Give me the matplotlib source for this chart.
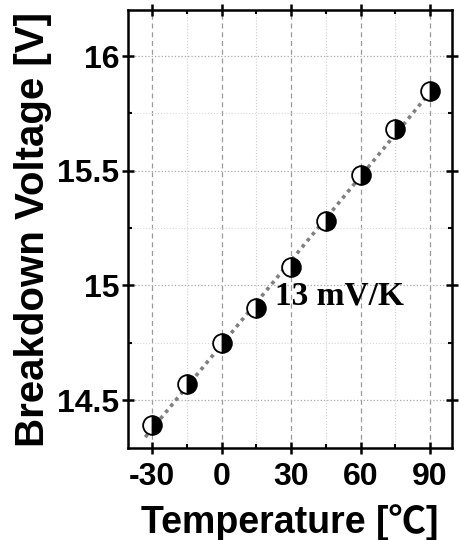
import numpy as np
import matplotlib.pyplot as plt
from matplotlib.ticker import MultipleLocator

# breakdown voltage vs temperature
temperature = [-30, -15, 0, 15, 30, 45, 60, 75, 90]
voltage = [14.39, 14.57, 14.75, 14.90, 15.08, 15.28, 15.48, 15.68, 15.85]
x_ticks = [-30, 0, 30, 60, 90]
y_ticks = [14.5, 15, 15.5, 16]
y_tick_labels = ["14.5", "15", "15.5", "16"]
slope_label = "13 mV/K"

plt.rcParams["font.family"] = ["Liberation Sans", "Noto Sans CJK SC", "DejaVu Sans"]
plt.rcParams["font.weight"] = "bold"
plt.rcParams["axes.unicode_minus"] = False

fig = plt.figure(figsize=(4.6, 5.4), dpi=100)
ax = fig.add_axes([0.278, 0.170, 0.705, 0.811])

# linear fit through the measured points
coef = np.polyfit(temperature, voltage, 1)
fit_x = np.array([-33, 93])
ax.plot(fit_x, np.polyval(coef, fit_x), color="#808080", linestyle=(0, (1, 1.2)),
        linewidth=2.6, zorder=2)

ax.plot(temperature, voltage, linestyle="none", marker="o", markersize=13.5,
        fillstyle="right", markerfacecolor="black", markerfacecoloralt="white",
        markeredgecolor="black", markeredgewidth=1.3, zorder=3)

ax.text(51, 14.955, slope_label, family="Liberation Serif", fontsize=24,
        fontweight="bold", ha="center", va="center")

ax.set_xlim(-40.5, 99.5)
ax.set_ylim(14.29, 16.2)
ax.set_xticks(x_ticks)
ax.set_yticks(y_ticks)
ax.set_yticklabels(y_tick_labels)
ax.xaxis.set_minor_locator(MultipleLocator(15))
ax.yaxis.set_minor_locator(MultipleLocator(0.25))

ax.grid(which="major", axis="x", color="#9a9a9a", linestyle=(0, (4, 3)), linewidth=0.9)
ax.grid(which="minor", axis="x", color="#d0d0d0", linestyle=":", linewidth=0.8)
ax.grid(which="major", axis="y", color="#a8a8a8", linestyle=":", linewidth=0.9)
ax.grid(which="minor", axis="y", color="#d8d8d8", linestyle=":", linewidth=0.8)
ax.set_axisbelow(True)

for s in ax.spines.values():
    s.set_linewidth(1.8)

ax.tick_params(which="major", direction="inout", length=8, width=1.8,
               labelsize=23, pad=2, top=True, right=True)
ax.tick_params(axis="x", which="major", pad=6)
ax.tick_params(which="minor", direction="in", length=3, width=1.5, top=True, right=True)

ax.set_xlabel("Temperature [\u2103]", fontsize=27, fontweight="bold", labelpad=9)
ax.set_ylabel("Breakdown Voltage [V]", fontsize=29, fontweight="bold", labelpad=4)

fig.savefig("out.png", dpi=100)
